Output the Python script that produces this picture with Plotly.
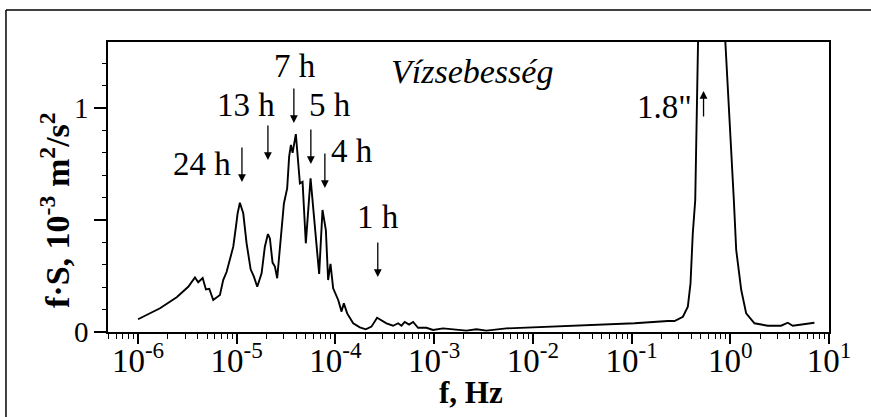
import plotly.graph_objects as go

# ---- data ----
log_freq = [-6.0, -5.777, -5.608, -5.491, -5.423, -5.39, -5.345, -5.312, -5.278, -5.238,
            -5.17, -5.137, -5.102, -5.069, -5.035, -5.008, -4.991, -4.968, -4.934, -4.9,
            -4.859, -4.826, -4.792, -4.748, -4.715, -4.684, -4.664, -4.637, -4.613, -4.59,
            -4.556, -4.522, -4.489, -4.469, -4.451, -4.434, -4.401, -4.378, -4.36, -4.333,
            -4.3, -4.252, -4.219, -4.165, -4.131, -4.097, -4.074, -4.05, -4.023, -3.972,
            -3.938, -3.915, -3.881, -3.82, -3.753, -3.692, -3.635, -3.578, -3.483, -3.416,
            -3.365, -3.331, -3.298, -3.254, -3.213, -3.163, -3.078, -3.011, -2.91, -2.774,
            -2.673, -2.572, -2.47, -2.268, -1.98, -1.476, -0.97, -0.632, -0.565, -0.48,
            -0.43, -0.403, -0.38, -0.355, -0.258, 0.036, 0.06, 0.111, 0.161, 0.245,
            0.38, 0.515, 0.582, 0.633, 0.852]
fs_values = [0.057, 0.106, 0.155, 0.202, 0.244, 0.222, 0.241, 0.19, 0.193, 0.143,
             0.165, 0.232, 0.269, 0.321, 0.381, 0.47, 0.53, 0.577, 0.53, 0.396,
             0.28, 0.247, 0.202, 0.262, 0.381, 0.4375, 0.418, 0.31, 0.292, 0.24,
             0.425, 0.574, 0.641, 0.783, 0.835, 0.80, 0.884, 0.76, 0.664, 0.671,
             0.396, 0.686, 0.53, 0.259, 0.545, 0.455, 0.232, 0.304, 0.195, 0.143,
             0.091, 0.128, 0.083, 0.039, 0.021, 0.012, 0.024, 0.064, 0.039, 0.028,
             0.039, 0.028, 0.045, 0.033, 0.045, 0.019, 0.019, 0.009, 0.016, 0.012,
             0.006, 0.012, 0.006, 0.016, 0.021, 0.028, 0.039, 0.049, 0.049, 0.068,
             0.113, 0.217, 0.44, 0.589, 3.0, 0.589, 0.366, 0.1875, 0.083, 0.039,
             0.028, 0.028, 0.0415, 0.028, 0.0415]
freq = [10 ** v for v in log_freq]

x_tick_exponents = [-6, -5, -4, -3, -2, -1, 0, 1]
x_tick_vals = [10.0 ** e for e in x_tick_exponents]
x_tick_text = ["10<sup>%d</sup>" % e for e in x_tick_exponents]
y_tick_vals = [0, 0.5, 1]
y_tick_text = ["0", "", "1"]

x_title = "<b>f, Hz</b>"
y_title = "<b>f·S, 10<sup>-3</sup> m<sup>2</sup>/s<sup>2</sup></b>"
chart_label = "<i>Vízsebesség</i>"

# period labels
period_labels = ["24 h", "13 h", "7 h", "5 h", "4 h", "1 h"]
arrow_logf = [-4.947, -4.684, -4.421, -4.249, -4.107, -3.571]
arrow_head = [0.670, 0.768, 0.933, 0.750, 0.643, 0.2455]
label_logf = [-5.352, -4.911, -4.409, -4.055, -3.832, -3.569]
label_val = [0.75, 1.013, 1.19, 1.013, 0.808, 0.513]

FONT = "Liberation Serif"

fig = go.Figure()
fig.add_trace(go.Scatter(x=freq, y=fs_values, mode="lines",
                         line=dict(color="black", width=1.9), showlegend=False,
                         hoverinfo="skip"))

minor_x = [k * 10.0 ** e for e in range(-7, 1) for k in range(2, 10)]

fig.update_xaxes(type="log", range=[-6.304, 1], tickmode="array", automargin=False,
                 tickvals=x_tick_vals, ticktext=x_tick_text,
                 ticks="outside", ticklen=10, tickwidth=1.5, tickcolor="black",
                 minor=dict(tickmode="array", tickvals=minor_x, ticks="outside",
                            ticklen=5, tickwidth=1.2, tickcolor="black"),
                 showline=True, linecolor="black", linewidth=1.5, mirror=True,
                 showgrid=False, zeroline=False, ticklabelstandoff=-11,
                 tickfont=dict(family=FONT, size=33, color="black"))
fig.update_yaxes(range=[0, 1.295], tickmode="array", tickvals=y_tick_vals, automargin=False,
                 ticktext=y_tick_text, ticks="outside", ticklen=12, tickwidth=1.5,
                 tickcolor="black",
                 minor=dict(dtick=0.1, tick0=0, ticks="outside", ticklen=4,
                            tickwidth=1.2, tickcolor="black"),
                 showline=True, linecolor="black", linewidth=1.5, mirror=True,
                 showgrid=False, zeroline=False,
                 tickfont=dict(family=FONT, size=29, color="black"))

annotations = []
for t, xl, yl in zip(period_labels, label_logf, label_val):
    annotations.append(dict(x=xl, y=yl, xref="x", yref="y", text=t, showarrow=False,
                            font=dict(family=FONT, size=33, color="black"),
                            xanchor="center", yanchor="middle"))
for xa, ya in zip(arrow_logf, arrow_head):
    annotations.append(dict(x=xa, y=ya, xref="x", yref="y", text="", showarrow=True,
                            ax=0, ay=-36, arrowhead=2, arrowsize=1.2, arrowwidth=1.3,
                            arrowcolor="black", standoff=0))
# 1.8" wave peak
annotations.append(dict(x=-0.667, y=1.004, xref="x", yref="y", text='1.8"', showarrow=False,
                        font=dict(family=FONT, size=33, color="black"),
                        xanchor="center", yanchor="middle"))
annotations.append(dict(x=-0.271, y=1.076, xref="x", yref="y", text="", showarrow=True,
                        ax=0, ay=27, arrowhead=2, arrowsize=1.2, arrowwidth=1.3,
                        arrowcolor="black", standoff=0))
# italic label inside plot
annotations.append(dict(x=-2.616, y=1.165, xref="x", yref="y", text=chart_label,
                        showarrow=False, font=dict(family=FONT, size=34, color="black"),
                        xanchor="center", yanchor="middle"))
# axis titles
annotations.append(dict(x=0.5035, y=-0.207, xref="paper", yref="paper", text=x_title,
                        showarrow=False, font=dict(family=FONT, size=31, color="black"),
                        xanchor="center", yanchor="middle"))
annotations.append(dict(x=-0.0735, y=0.4207, xref="paper", yref="paper", text=y_title,
                        showarrow=False, textangle=-90,
                        font=dict(family=FONT, size=34, color="black"),
                        xanchor="center", yanchor="middle"))

shapes = [
    dict(type="line", xref="paper", yref="paper", x0=-0.1415, x1=1.2, y0=1.1103, y1=1.1103,
         line=dict(color="black", width=1.5)),
    dict(type="line", xref="paper", yref="paper", x0=-0.1415, x1=-0.1415, y0=-0.4, y1=1.1103,
         line=dict(color="black", width=1.5)),
]

fig.update_layout(width=871, height=417, margin=dict(l=108, r=42, t=42, b=85),
                  paper_bgcolor="white", plot_bgcolor="white",
                  annotations=annotations, shapes=shapes,
                  font=dict(family=FONT, color="black"))
fig.write_html("out.html")
